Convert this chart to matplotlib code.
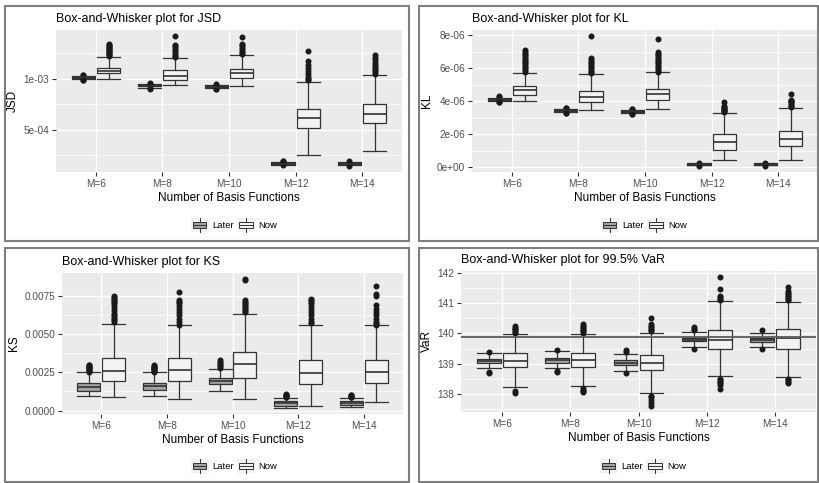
import numpy as np
import matplotlib
matplotlib.use("Agg")
import matplotlib.pyplot as plt
from matplotlib.patches import Rectangle
from matplotlib.lines import Line2D
from matplotlib.legend_handler import HandlerBase

plt.rcParams['font.family'] = ['Liberation Sans', 'DejaVu Sans']

# box stats per M: (whislo, q1, med, q3, whishi)
groups = ["M=6", "M=8", "M=10", "M=12", "M=14"]

jsd_later = [(0.998e-3, 1.008e-3, 1.015e-3, 1.022e-3, 1.030e-3),
             (0.910e-3, 0.925e-3, 0.932e-3, 0.938e-3, 0.948e-3),
             (0.905e-3, 0.915e-3, 0.921e-3, 0.927e-3, 0.936e-3),
             (1.58e-4, 1.64e-4, 1.68e-4, 1.72e-4, 1.80e-4),
             (1.58e-4, 1.64e-4, 1.68e-4, 1.72e-4, 1.80e-4)]
jsd_later_out = [[1.035e-3, 1.04e-3, 0.99e-3, 0.993e-3],
                 [0.953e-3, 0.958e-3, 0.90e-3, 0.905e-3],
                 [0.942e-3, 0.946e-3, 0.897e-3, 0.90e-3],
                 [1.9e-4, 1.95e-4, 1.5e-4],
                 [1.92e-4, 1.48e-4]]
jsd_now = [(1.003e-3, 1.055e-3, 1.080e-3, 1.109e-3, 1.21e-3),
           (0.935e-3, 0.987e-3, 1.032e-3, 1.087e-3, 1.20e-3),
           (0.926e-3, 1.010e-3, 1.055e-3, 1.100e-3, 1.23e-3),
           (2.52e-4, 5.13e-4, 6.13e-4, 7.07e-4, 9.71e-4),
           (2.87e-4, 5.68e-4, 6.59e-4, 7.55e-4, 1.039e-3)]
jsd_now_out = [[1.22e-3, 1.23e-3, 1.24e-3, 1.25e-3, 1.26e-3, 1.27e-3, 1.28e-3, 1.29e-3, 1.30e-3, 1.31e-3, 1.32e-3, 1.33e-3, 1.345e-3],
               [1.21e-3, 1.22e-3, 1.24e-3, 1.26e-3, 1.28e-3, 1.30e-3, 1.32e-3, 1.336e-3, 1.416e-3],
               [1.24e-3, 1.25e-3, 1.27e-3, 1.29e-3, 1.31e-3, 1.33e-3, 1.34e-3, 1.41e-3],
               [0.99e-3, 1.0e-3, 1.02e-3, 1.05e-3, 1.08e-3, 1.11e-3, 1.14e-3, 1.17e-3, 1.274e-3],
               [1.05e-3, 1.07e-3, 1.09e-3, 1.10e-3, 1.12e-3, 1.14e-3, 1.16e-3, 1.18e-3, 1.20e-3, 1.232e-3]]

kl_later = [(4.02e-6, 4.08e-6, 4.12e-6, 4.16e-6, 4.22e-6),
            (3.36e-6, 3.42e-6, 3.46e-6, 3.50e-6, 3.56e-6),
            (3.28e-6, 3.36e-6, 3.40e-6, 3.44e-6, 3.50e-6),
            (0.12e-6, 0.15e-6, 0.18e-6, 0.20e-6, 0.24e-6),
            (0.12e-6, 0.15e-6, 0.18e-6, 0.20e-6, 0.24e-6)]
kl_later_out = [[4.28e-6, 4.32e-6, 3.96e-6, 3.98e-6],
                [3.60e-6, 3.62e-6, 3.30e-6, 3.32e-6],
                [3.54e-6, 3.56e-6, 3.22e-6, 3.25e-6],
                [0.27e-6, 0.10e-6],
                [0.27e-6, 0.10e-6]]
kl_now = [(4.02e-6, 4.38e-6, 4.66e-6, 4.92e-6, 5.72e-6),
          (3.48e-6, 3.94e-6, 4.28e-6, 4.62e-6, 5.64e-6),
          (3.54e-6, 4.08e-6, 4.44e-6, 4.76e-6, 5.76e-6),
          (0.46e-6, 1.06e-6, 1.54e-6, 2.04e-6, 3.28e-6),
          (0.46e-6, 1.28e-6, 1.70e-6, 2.22e-6, 3.58e-6)]
kl_now_out = [[5.8e-6, 5.9e-6, 6.0e-6, 6.1e-6, 6.2e-6, 6.3e-6, 6.4e-6, 6.5e-6, 6.6e-6, 6.7e-6, 6.8e-6, 6.9e-6, 7.0e-6, 7.1e-6],
              [5.7e-6, 5.8e-6, 5.9e-6, 6.0e-6, 6.1e-6, 6.2e-6, 6.3e-6, 6.4e-6, 6.5e-6, 6.65e-6, 7.94e-6],
              [5.8e-6, 5.9e-6, 6.0e-6, 6.1e-6, 6.2e-6, 6.3e-6, 6.4e-6, 6.5e-6, 6.6e-6, 6.7e-6, 6.8e-6, 6.9e-6, 7.0e-6, 7.8e-6],
              [3.35e-6, 3.4e-6, 3.45e-6, 3.5e-6, 3.55e-6, 3.6e-6, 3.65e-6, 3.7e-6, 3.96e-6],
              [3.65e-6, 3.7e-6, 3.8e-6, 3.9e-6, 3.95e-6, 4.0e-6, 4.05e-6, 4.1e-6, 4.46e-6]]

ks_later = [(0.00095, 0.00130, 0.00155, 0.00181, 0.00250),
            (0.00093, 0.00136, 0.00160, 0.00183, 0.00250),
            (0.00127, 0.00172, 0.00194, 0.00216, 0.00274),
            (0.00020, 0.00032, 0.00047, 0.00062, 0.00084),
            (0.00025, 0.00034, 0.00047, 0.00060, 0.00084)]
ks_later_out = [[0.00255, 0.0026, 0.00265, 0.0027, 0.00275, 0.0028, 0.00285, 0.0029, 0.00295, 0.0030],
                [0.00255, 0.0026, 0.00265, 0.0027, 0.00275, 0.0028, 0.00285, 0.0029, 0.00298],
                [0.0028, 0.0029, 0.0030, 0.0031, 0.0032, 0.0033],
                [0.00088, 0.00092, 0.00096, 0.0010, 0.00105, 0.0011],
                [0.00088, 0.00092, 0.00096, 0.0010, 0.00104]]
ks_now = [(0.00091, 0.00190, 0.00257, 0.00343, 0.00563),
          (0.00078, 0.00195, 0.00267, 0.00343, 0.00555),
          (0.00078, 0.00216, 0.00302, 0.00382, 0.00630),
          (0.00028, 0.00175, 0.00246, 0.00332, 0.00561),
          (0.00054, 0.00181, 0.00250, 0.00330, 0.00555)]
ks_now_out = [[0.0058, 0.0059, 0.0060, 0.0061, 0.0062, 0.0063, 0.0065, 0.0067, 0.0069, 0.0070, 0.0071, 0.0072, 0.0073, 0.0074, 0.0075],
              [0.0056, 0.0058, 0.0060, 0.0062, 0.0064, 0.0066, 0.0068, 0.0070, 0.0071, 0.0072, 0.00773],
              [0.0064, 0.0065, 0.0066, 0.0067, 0.0068, 0.0069, 0.0070, 0.0071, 0.0072, 0.0085, 0.00855],
              [0.0057, 0.0058, 0.0060, 0.0062, 0.0064, 0.0066, 0.0068, 0.0070, 0.0071, 0.0072, 0.0073],
              [0.0056, 0.0057, 0.0058, 0.0060, 0.0062, 0.0064, 0.0066, 0.0069, 0.0075, 0.0076, 0.0081]]

var_later = [(138.85, 139.03, 139.09, 139.17, 139.36),
             (138.85, 139.04, 139.12, 139.19, 139.43),
             (138.76, 138.96, 139.04, 139.11, 139.32),
             (139.55, 139.75, 139.80, 139.84, 140.04),
             (139.54, 139.73, 139.80, 139.84, 140.03)]
var_later_out = [[139.40, 138.74, 138.70],
                 [139.47, 138.75, 138.72],
                 [139.40, 139.46, 138.70],
                 [140.10, 140.15, 140.20, 139.50],
                 [140.10, 139.48]]
var_now = [(138.22, 138.89, 139.10, 139.34, 139.99),
           (138.26, 138.90, 139.13, 139.34, 139.99),
           (138.05, 138.78, 139.04, 139.29, 140.03),
           (138.60, 139.50, 139.80, 140.12, 141.07),
           (138.56, 139.50, 139.84, 140.15, 141.04)]
var_now_out = [[140.03, 140.06, 140.10, 140.14, 140.18, 140.24, 138.10, 138.05],
               [140.03, 140.07, 140.11, 140.15, 140.20, 140.25, 140.31, 138.20, 138.15, 138.10, 138.06],
               [140.08, 140.12, 140.16, 140.20, 140.25, 140.30, 140.50, 137.95, 137.90, 137.80, 137.70, 137.62],
               [141.10, 141.15, 141.20, 141.25, 141.46, 141.85, 138.50, 138.45, 138.40, 138.35, 138.30, 138.16],
               [141.10, 141.15, 141.20, 141.25, 141.30, 141.35, 141.40, 141.55, 138.50, 138.45, 138.40, 138.35]]
var_ref = 139.87

W, H = 819, 483
LATER_FC = "#A3A3A3"
NOW_FC = "#F2F2F2"
EDGE = "#333333"


class BoxKey(HandlerBase):
    def create_artists(self, legend, orig_handle, xdescent, ydescent, width, height, fontsize, trans):
        x0, y0 = -xdescent, -ydescent
        bg = Rectangle((x0, y0), width, height, fc="#F2F2F2", ec="none", transform=trans)
        box = Rectangle((x0 + width * 0.12, y0 + height * 0.28), width * 0.76, height * 0.44,
                        fc=orig_handle.get_facecolor(), ec=EDGE, lw=0.7, transform=trans)
        cx = x0 + width / 2
        med = Line2D([x0 + width * 0.12, x0 + width * 0.88], [y0 + height / 2] * 2, color=EDGE, lw=0.7, transform=trans)
        w1 = Line2D([cx, cx], [y0 + height * 0.05, y0 + height * 0.28], color=EDGE, lw=0.7, transform=trans)
        w2 = Line2D([cx, cx], [y0 + height * 0.72, y0 + height * 0.95], color=EDGE, lw=0.7, transform=trans)
        return [bg, box, med, w1, w2]


def to_stats(rows, outs):
    return [dict(whislo=r[0], q1=r[1], med=r[2], q3=r[3], whishi=r[4], fliers=o) for r, o in zip(rows, outs)]


def panel(fig, px, title, ylabel, later, later_out, now, now_out, yticks, ylabels, yminor, hline=None):
    l, t, r, b = px
    ax = fig.add_axes([l / W, 1 - b / H, (r - l) / W, (b - t) / H])
    ax.set_facecolor("#EBEBEB")
    x = np.arange(1, len(groups) + 1)
    common = dict(widths=0.35, capwidths=0.35, patch_artist=True, manage_ticks=False,
                  whiskerprops=dict(color=EDGE, lw=0.9), capprops=dict(color=EDGE, lw=0.9),
                  medianprops=dict(color=EDGE, lw=1.2),
                  flierprops=dict(marker="o", markersize=3.3, markerfacecolor="#1a1a1a",
                                  markeredgecolor="#1a1a1a", linestyle="none"))
    ax.bxp(to_stats(later, later_out), positions=x - 0.19,
           boxprops=dict(facecolor=LATER_FC, edgecolor=EDGE, lw=0.9), **common)
    ax.bxp(to_stats(now, now_out), positions=x + 0.19,
           boxprops=dict(facecolor=NOW_FC, edgecolor=EDGE, lw=0.9), **common)
    if hline is not None:
        ax.axhline(hline, color="#5c5c5c", lw=1.3, zorder=5)
    vals = [v for row in later + now for v in row] + [v for o in later_out + now_out for v in o]
    lo, hi = min(vals), max(vals)
    pad = (hi - lo) * 0.05
    ax.set_ylim(lo - pad, hi + pad)
    ax.set_xlim(0.4, 5.6)
    ax.set_xticks(x)
    ax.set_xticklabels(groups)
    ax.set_yticks(yticks)
    ax.set_yticklabels(ylabels)
    ax.set_yticks(yminor, minor=True)
    ax.grid(True, which="major", color="white", lw=1.0, zorder=0)
    ax.grid(True, which="minor", axis="y", color="white", lw=0.5, zorder=0)
    ax.set_axisbelow(True)
    for s in ax.spines.values():
        s.set_visible(False)
    ax.tick_params(which="major", length=3, width=0.8, color="#333333", labelcolor="#4D4D4D", labelsize=7.2, pad=2)
    ax.tick_params(which="minor", length=0)
    ax.set_xlabel("Number of Basis Functions", fontsize=8.5, labelpad=2)
    ax.set_ylabel(ylabel, fontsize=8.5, labelpad=3)
    ax.set_title(title, fontsize=9, loc="left", pad=6)
    return ax


fig = plt.figure(figsize=(W / 100, H / 100), dpi=100)
fig.patch.set_facecolor("white")

# panel frames (pixels: x0, y0, x1, y1)
frames = [(5, 6, 409, 241), (419, 6, 818, 241), (5, 248, 409, 482), (419, 248, 818, 482)]
for x0, y0, x1, y1 in frames:
    fig.add_artist(Rectangle((x0 / W, 1 - y1 / H), (x1 - x0) / W, (y1 - y0) / H, transform=fig.transFigure,
                             fill=False, ec="#7f7f7f", lw=1.5))

axes = []
axes.append(panel(fig, (56, 30, 402, 172), "Box-and-Whisker plot for JSD", "JSD",
                  jsd_later, jsd_later_out, jsd_now, jsd_now_out,
                  [5e-4, 1e-3], ["5e-04", "1e-03"], [2.5e-4, 7.5e-4, 1.25e-3]))
axes.append(panel(fig, (472, 30, 818, 172), "Box-and-Whisker plot for KL", "KL",
                  kl_later, kl_later_out, kl_now, kl_now_out,
                  [0, 2e-6, 4e-6, 6e-6, 8e-6], ["0e+00", "2e-06", "4e-06", "6e-06", "8e-06"],
                  [1e-6, 3e-6, 5e-6, 7e-6]))
axes.append(panel(fig, (62, 273, 403, 414), "Box-and-Whisker plot for KS", "KS",
                  ks_later, ks_later_out, ks_now, ks_now_out,
                  [0, 0.0025, 0.005, 0.0075], ["0.0000", "0.0025", "0.0050", "0.0075"],
                  [0.00125, 0.00375, 0.00625]))
axes.append(panel(fig, (461, 271, 816, 412), "Box-and-Whisker plot for 99.5% VaR", "VaR",
                  var_later, var_later_out, var_now, var_now_out,
                  [138, 139, 140, 141, 142], ["138", "139", "140", "141", "142"],
                  [137.5, 138.5, 139.5, 140.5, 141.5], hline=var_ref))

legend_pos = [(234, 225), (644, 225), (234, 466), (643, 466)]
for ax, (lx, ly) in zip(axes, legend_pos):
    handles = [Rectangle((0, 0), 1, 1, fc=LATER_FC), Rectangle((0, 0), 1, 1, fc=NOW_FC)]
    fig.legend(handles, ["Later", "Now"], loc="center", bbox_to_anchor=(lx / W, 1 - ly / H),
               ncol=2, frameon=False, fontsize=6.8, handler_map={Rectangle: BoxKey()},
               handlelength=1.9, handleheight=2.0, handletextpad=0.4, columnspacing=0.3, borderpad=0)

fig.savefig("out.png", dpi=100)
